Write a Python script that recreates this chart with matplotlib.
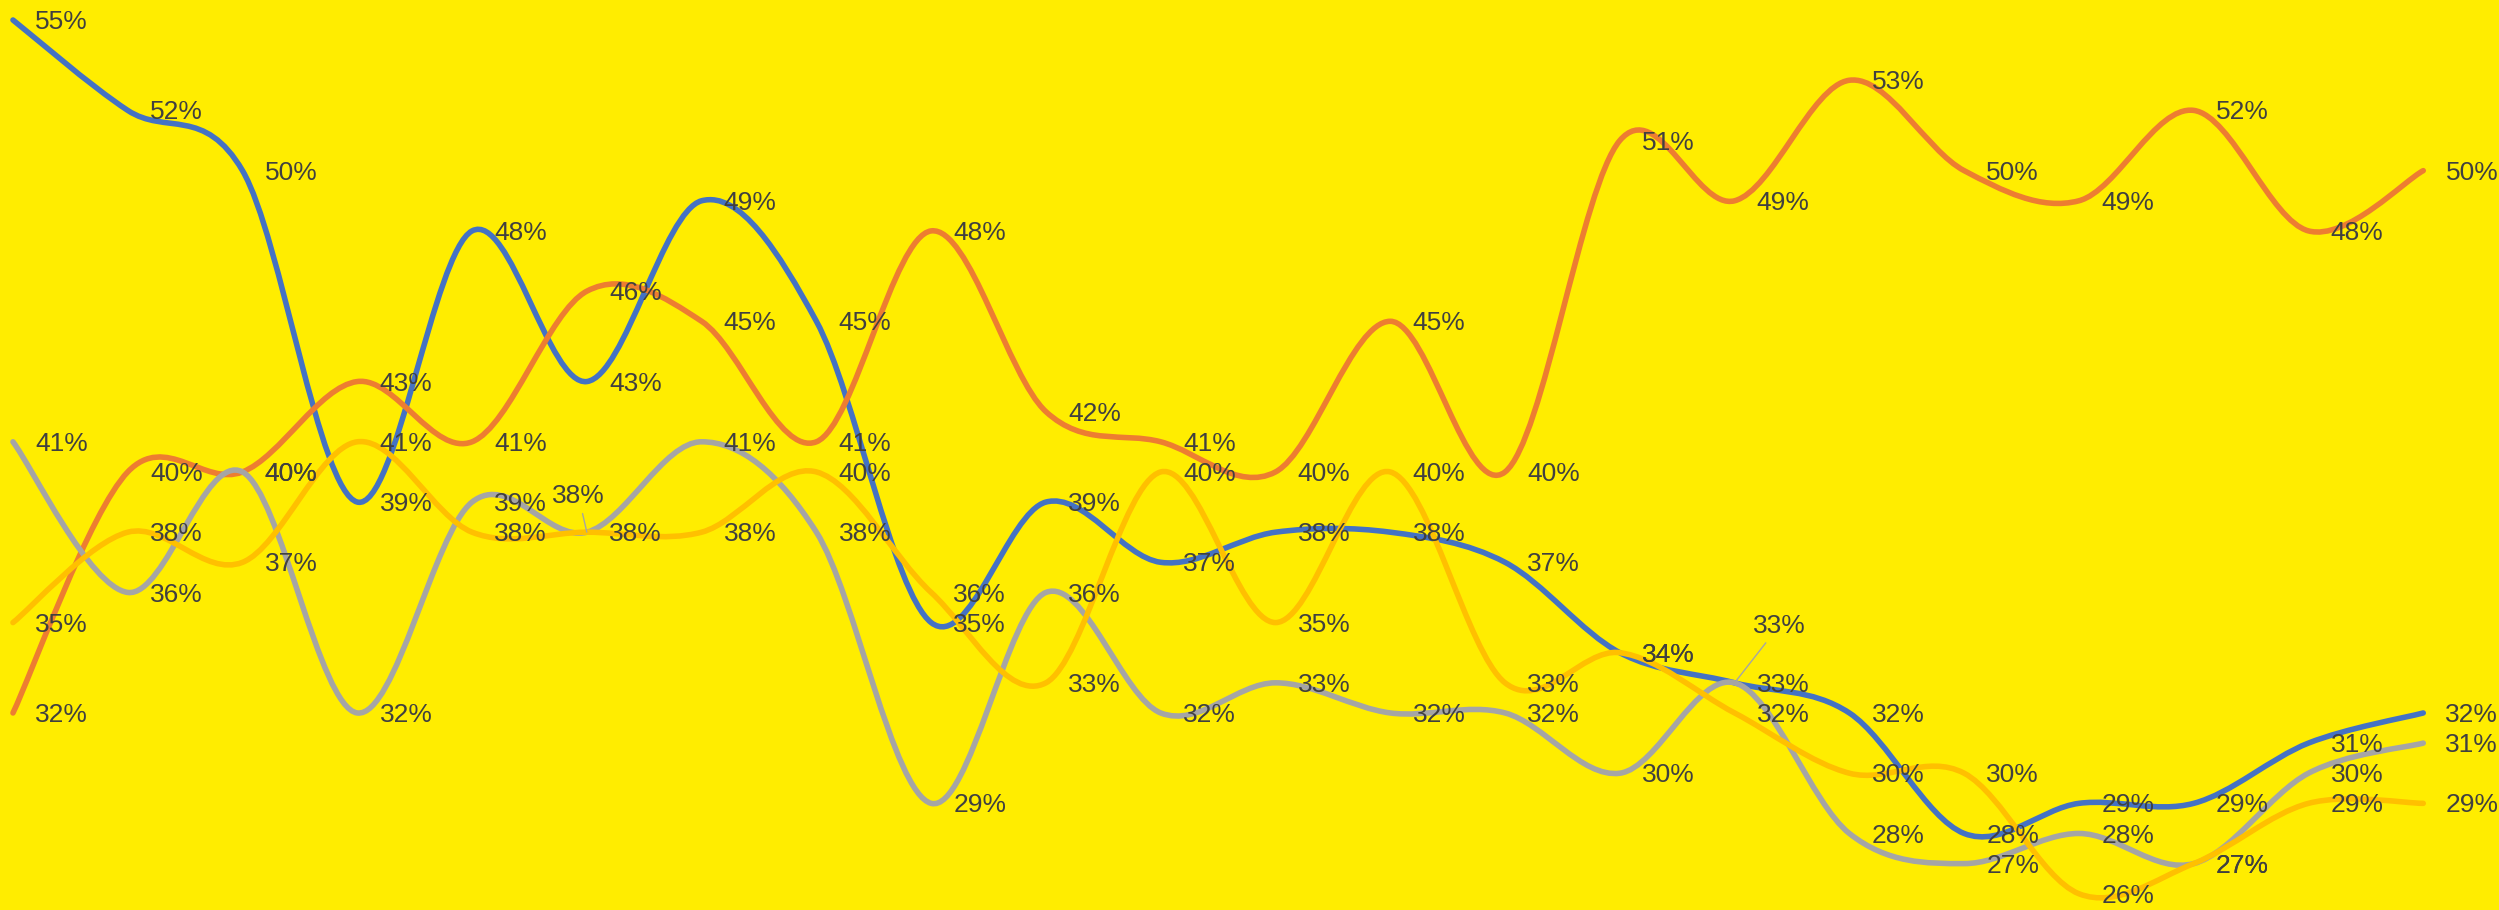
import matplotlib
matplotlib.use("Agg")
import matplotlib.pyplot as plt
from matplotlib.path import Path
from matplotlib.patches import PathPatch

plt.rcParams['font.family'] = ['Liberation Sans', 'DejaVu Sans']

# 22 periods, values in %
blue = [55, 52, 50, 39, 48, 43, 49, 45, 35, 39, 37, 38, 38, 37, 34, 33, 32, 28, 29, 29, 31, 32]
orange = [32, 40, 40, 43, 41, 46, 45, 41, 48, 42, 41, 40, 45, 40, 51, 49, 53, 50, 49, 52, 48, 50]
grey = [41, 36, 40, 32, 39, 38, 41, 38, 29, 36, 32, 33, 32, 32, 30, 33, 28, 27, 28, 27, 30, 31]
gold = [35, 38, 37, 41, 38, 38, 38, 40, 36, 33, 40, 35, 40, 33, 34, 32, 30, 30, 26, 27, 29, 29]

series = [
    (blue, '#4472C4'),
    (orange, '#ED7D31'),
    (grey, '#A5A5A5'),
    (gold, '#FFC000'),
]

# labels that Excel moved away from the point (series index, point index) -> offset in points
moved = {(2, 5): (-6, 26), (2, 15): (32, 41)}

BG = '#FFED00'
TXT = '#404040'


def smooth_path(ys):
    # Excel-style smoothed line: cubic bezier, catmull-rom control points
    xs = list(range(len(ys)))
    pts = list(zip(xs, ys))
    verts = [pts[0]]
    codes = [Path.MOVETO]
    n = len(pts)
    for i in range(n - 1):
        p0 = pts[max(i - 1, 0)]
        p1 = pts[i]
        p2 = pts[i + 1]
        p3 = pts[min(i + 2, n - 1)]
        c1 = (p1[0] + (p2[0] - p0[0]) / 6, p1[1] + (p2[1] - p0[1]) / 6)
        c2 = (p2[0] - (p3[0] - p1[0]) / 6, p2[1] - (p3[1] - p1[1]) / 6)
        verts += [c1, c2, p2]
        codes += [Path.CURVE4] * 3
    return Path(verts, codes)


fig = plt.figure(figsize=(24.99, 9.10), dpi=100)
fig.patch.set_facecolor(BG)
ax = fig.add_axes([0, 0, 1, 1])
ax.set_facecolor(BG)

for vals, col in series:
    patch = PathPatch(smooth_path(vals), facecolor='none', edgecolor=col,
                      lw=4, capstyle='round', joinstyle='round')
    ax.add_patch(patch)

for s, (vals, col) in enumerate(series):
    for i, v in enumerate(vals):
        if (s, i) in moved:
            ax.annotate(f'{v}%', (i, v), xytext=moved[(s, i)], textcoords='offset points',
                        ha='center', va='center', fontsize=19, color=TXT,
                        arrowprops=dict(arrowstyle='-', color='#A5A5A5', lw=1,
                                        shrinkA=2, shrinkB=0))
        else:
            ax.annotate(f'{v}%', (i, v), xytext=(16, -1.5), textcoords='offset points',
                        ha='left', va='center', fontsize=19, color=TXT)

ax.set_xlim(-0.113, 21.66)
ax.set_ylim(25.46, 55.664)
ax.axis('off')

fig.savefig('out.png', dpi=100, facecolor=BG)
